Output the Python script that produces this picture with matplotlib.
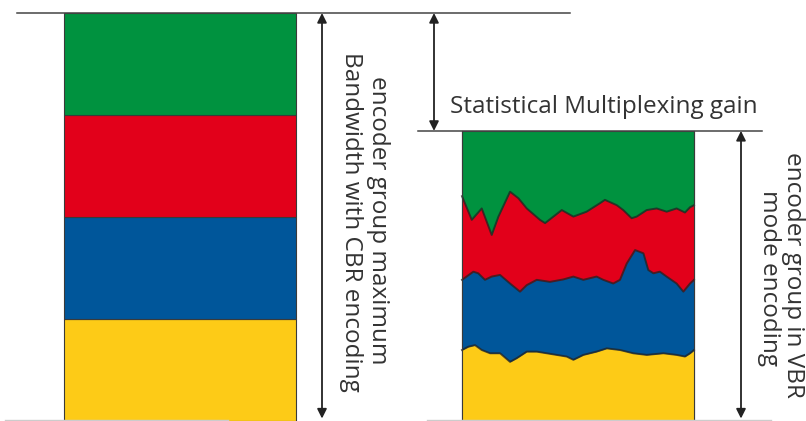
import numpy as np
import matplotlib
matplotlib.use("Agg")
import matplotlib.pyplot as plt

# CBR: every encoder gets a fixed share of the group bandwidth
cbr_layers = [25, 25, 25, 25]  # yellow, blue, red, green (bottom -> top)
layer_colors = ["#FDCB17", "#00569A", "#E2001A", "#00923F"]

# VBR: cumulative layer boundaries over time (percent of the interval)
vbr_top = 71.1

t_green_red = [0, 4.2, 8.5, 12.8, 15.7, 20.7, 24.3, 27.9, 33.6, 35.8, 39.4, 43.0, 48.0,
               53.7, 59.5, 61.6, 66.7, 69.5, 73.1, 75.3, 79.6, 83.9, 88.2, 92.5, 96.1, 98.3, 100]
green_red = [55.1, 49.3, 52.1, 45.6, 50.1, 56.2, 54.6, 52.1, 49.3, 48.5, 50.1, 51.7, 50.1,
             51.3, 53.4, 54.2, 52.9, 51.7, 49.7, 50.1, 51.7, 52.1, 51.3, 52.1, 51.1, 52.4, 52.9]

t_red_blue = [0, 4.9, 7.0, 9.9, 12.8, 16.4, 20.7, 25.0, 27.9, 32.2, 37.9, 43.7, 48.0, 52.3,
              58.0, 60.9, 65.2, 68.1, 71.0, 74.6, 78.2, 80.3, 82.5, 85.3, 88.2, 92.5, 95.4, 98.3, 100]
red_blue = [34.6, 36.6, 36.2, 34.6, 35.4, 35.8, 33.7, 31.7, 33.3, 34.6, 34.1, 34.7, 35.4, 34.6,
            35.4, 34.6, 33.7, 34.6, 38.6, 41.9, 41.1, 37.0, 36.2, 36.6, 35.4, 33.7, 31.7, 33.7, 34.6]

t_blue_yellow = [0, 2.7, 5.6, 8.5, 12.1, 16.4, 20.7, 23.6, 27.9, 32.2, 36.5, 40.8, 45.1, 48.0,
                 52.3, 58.0, 62.4, 68.1, 73.8, 79.6, 86.8, 92.5, 96.1, 98.3, 100]
blue_yellow = [17.4, 18.2, 18.6, 17.4, 16.6, 16.6, 14.5, 15.4, 17.0, 17.0, 16.6, 16.2, 15.8, 15.0,
               16.2, 17.0, 17.8, 17.4, 16.6, 16.2, 16.6, 16.2, 15.8, 16.6, 17.4]

cbr_label = ["encoder group maximum", "Bandwidth with CBR encoding"]
vbr_label = ["encoder group in VBR", "mode encoding"]
gain_label = "Statistical Multiplexing gain"

fig = plt.figure(figsize=(8.06, 4.21), dpi=100)
ax = fig.add_axes([0, 0, 1, 1])
ax.set_xlim(0, 806)
ax.set_ylim(0, 100 * 421 / 408)
ax.axis("off")


def py(p):
    # pixel row -> bandwidth units (layout helper for annotations)
    return (421 - p) / 4.08


edge = "#3a3a3a"
bar_w = 232
cbr_x, vbr_x = 180, 578

# CBR stacked bar
bottom = 0
for h, c in zip(cbr_layers, layer_colors):
    ax.bar(cbr_x, h, bottom=bottom, width=bar_w, color=c, edgecolor=edge, linewidth=0.8)
    bottom += h
cbr_top = bottom

# VBR bar: paint layers from top to bottom
x0 = vbr_x - bar_w / 2


def tx(t):
    return x0 + np.asarray(t) / 100 * bar_w


ax.bar(vbr_x, vbr_top, width=bar_w, color=layer_colors[3], edgecolor=edge, linewidth=0.8)
for t, b, c in [(t_green_red, green_red, layer_colors[2]),
                (t_red_blue, red_blue, layer_colors[1]),
                (t_blue_yellow, blue_yellow, layer_colors[0])]:
    ax.fill_between(tx(t), 0, b, color=c, linewidth=0)
    ax.plot(tx(t), b, color="#222222", lw=1.4, alpha=0.75, solid_joinstyle="round")
ax.plot([x0, x0], [0, vbr_top], color=edge, lw=0.8)
ax.plot([x0 + bar_w] * 2, [0, vbr_top], color=edge, lw=0.8)

# reference lines
line_c = "#444444"
ax.plot([17, 570], [cbr_top, cbr_top], color=line_c, lw=1.1)
ax.plot([418, 762], [vbr_top, vbr_top], color=line_c, lw=1.1)
ax.plot([5, 228], [0.3, 0.3], color="#cccccc", lw=1)
ax.plot([427, 771], [0.3, 0.3], color="#cccccc", lw=1)


def darrow(x, y0, y1):
    ax.annotate("", xy=(x, y1), xytext=(x, y0),
                arrowprops=dict(arrowstyle="<|-|>", color="#222222", lw=1.3,
                                mutation_scale=14, shrinkA=0, shrinkB=0))


darrow(322, 0.6, cbr_top)
darrow(434, vbr_top, cbr_top)
darrow(741, 0.6, vbr_top)

font = ["Open Sans", "DejaVu Sans"]
txt_c = "#333333"
ax.text(450, py(113), gain_label, fontsize=17.5, family=font, color=txt_c,
        ha="left", va="baseline")
for x, y, s in [(372, py(220), cbr_label[0]), (345, py(222), cbr_label[1]),
                (787, py(275), vbr_label[0]), (763, py(278), vbr_label[1])]:
    ax.text(x, y, s, fontsize=17.5, family=font, color=txt_c, rotation=-90,
            rotation_mode="anchor", ha="center", va="baseline")

fig.savefig("out.png", dpi=100)
